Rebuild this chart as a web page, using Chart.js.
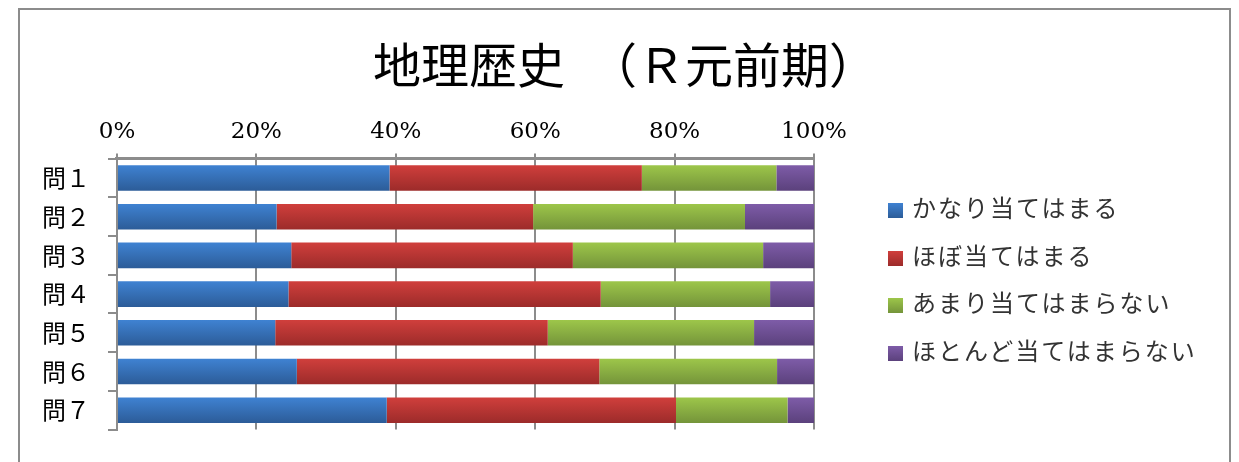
<!DOCTYPE html>
<html>
<head>
<meta charset="utf-8">
<script src="https://cdn.jsdelivr.net/npm/chart.js@4"></script>
<style>
  body { margin: 0; background: #fff; }
  #frame { position: absolute; left: 18px; top: 8px; width: 1209px; height: 480px; border: 2px solid #8c8c8c; border-bottom: none; }
  #wrap { position: absolute; left: 0; top: 0; width: 1239px; height: 462px; }
  #title { position: absolute; left: 10px; width: 1230px; top: 34px; height: 56px; line-height: 56px; margin: 0;
           text-align: center; font-family: 'Noto Sans CJK JP'; font-size: 48px; font-weight: normal; color: #000; }
  #legend { position: absolute; left: 888px; top: 183px; margin: 0; padding: 0; list-style: none;
            font-family: 'Noto Sans CJK JP'; font-size: 24px; letter-spacing: 2px; color: #333; }
  #legend li { height: 47.7px; line-height: 47.7px; white-space: nowrap; }
  #legend span { display: inline-block; width: 15px; height: 15px; margin-right: 9px; vertical-align: -1px; }
</style>
</head>
<body>
<div id="frame"></div>
<div id="wrap"><canvas id="chartCanvas"></canvas></div>
<h1 id="title">地理歴史　（Ｒ元前期）</h1>
<ul id="legend"></ul>
<script>
const questions = ["問１", "問２", "問３", "問４", "問５", "問６", "問７"];
const seriesNames = ["かなり当てはまる", "ほぼ当てはまる", "あまり当てはまらない", "ほとんど当てはまらない"];
const veryTrue = [39.1, 22.9, 25.0, 24.6, 22.7, 25.8, 38.7];
const mostlyTrue = [36.2, 36.8, 40.4, 44.8, 39.1, 43.4, 41.5];
const notReally = [19.3, 30.4, 27.3, 24.3, 29.6, 25.5, 16.0];
const hardlyAtAll = [5.4, 9.9, 7.3, 6.3, 8.6, 5.3, 3.8];
const tickValues = [0, 20, 40, 60, 80, 100];

// 上が明るく下が暗いグラデーション
const colorPairs = [
  ["#3f82d2", "#2c5c98"],
  ["#d03f3c", "#9c2b2a"],
  ["#9dc64a", "#74943a"],
  ["#7e5ca8", "#5b417c"]
];
const barPct = 0.66;

function barFill(i) {
  return function (ctx) {
    const chart = ctx.chart;
    const y = chart.scales && chart.scales.y;
    if (ctx.type !== "data" || !chart.chartArea || !y) return colorPairs[i][0];
    const yc = y.getPixelForValue(ctx.dataIndex);
    const h = (y.height / questions.length) * barPct;
    const g = chart.ctx.createLinearGradient(0, yc - h / 2, 0, yc + h / 2);
    g.addColorStop(0, colorPairs[i][0]);
    g.addColorStop(1, colorPairs[i][1]);
    return g;
  };
}

const allSeries = [veryTrue, mostlyTrue, notReally, hardlyAtAll];

// 凡例（HTML）
const legendEl = document.getElementById("legend");
seriesNames.forEach((n, i) => {
  const li = document.createElement("li");
  const box = document.createElement("span");
  box.style.background = "linear-gradient(" + colorPairs[i][0] + "," + colorPairs[i][1] + ")";
  li.appendChild(box);
  li.appendChild(document.createTextNode(n));
  legendEl.appendChild(li);
});

new Chart(document.getElementById("chartCanvas").getContext("2d"), {
  type: "bar",
  data: {
    labels: questions,
    datasets: allSeries.map((d, i) => ({
      label: seriesNames[i],
      data: d,
      backgroundColor: barFill(i),
      borderWidth: 0,
      barPercentage: barPct,
      categoryPercentage: 1
    }))
  },
  options: {
    indexAxis: "y",
    responsive: true,
    maintainAspectRatio: false,
    animation: false,
    layout: { padding: { left: 24, right: 425, top: 110, bottom: 22 } },
    plugins: {
      legend: { display: false },
      tooltip: { enabled: false }
    },
    scales: {
      x: {
        position: "top",
        stacked: true,
        min: 0,
        max: 100,
        afterBuildTicks: (axis) => { axis.ticks = tickValues.map(v => ({ value: v })); },
        ticks: {
          color: "#000",
          font: { family: "'DejaVu Serif'", size: 23 },
          padding: 8,
          callback: (v) => v + "%"
        },
        grid: { color: "#8c8c8c", lineWidth: 2, tickLength: 5 },
        border: { color: "#8c8c8c", width: 3 }
      },
      y: {
        stacked: true,
        ticks: {
          color: "#000",
          font: { family: "'Noto Sans CJK JP'", size: 24 },
          padding: 18
        },
        grid: { drawOnChartArea: false, color: "#8c8c8c", lineWidth: 2, tickLength: 9 },
        border: { color: "#8c8c8c", width: 2 }
      }
    }
  }
});
</script>
</body>
</html>
